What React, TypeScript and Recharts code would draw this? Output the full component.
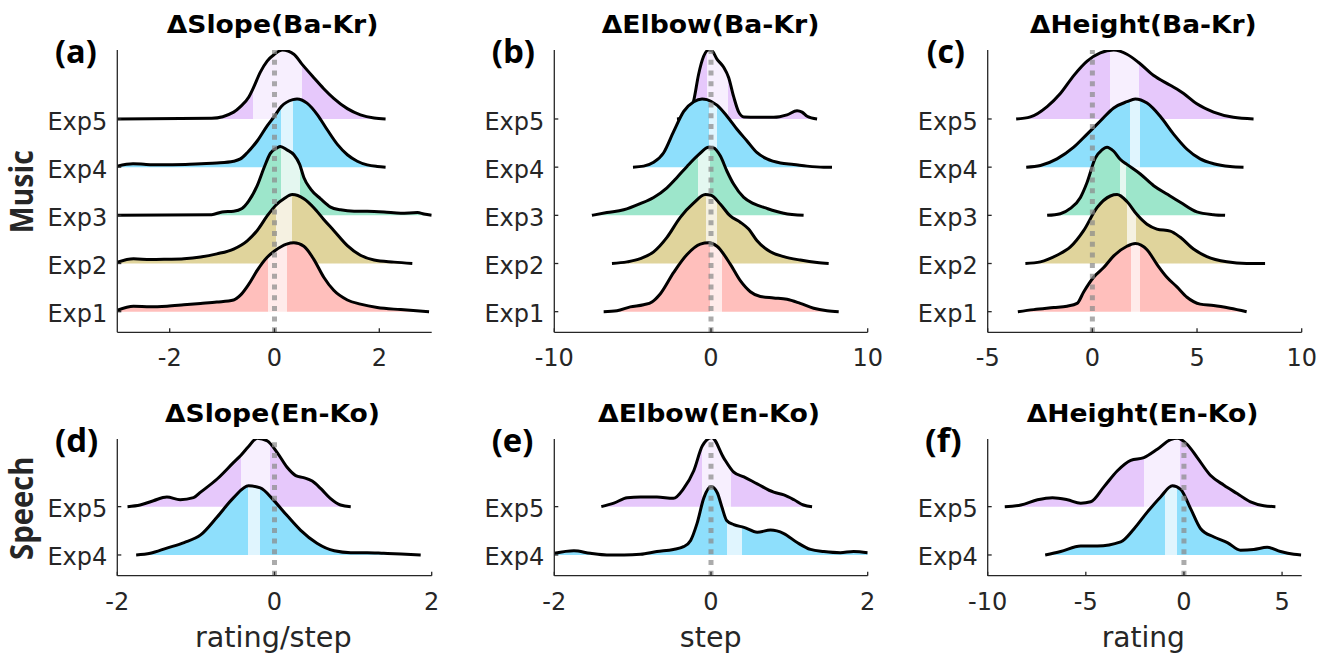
import React from 'react';
import { ComposedChart, Area, XAxis, YAxis, ReferenceLine } from 'recharts';

// x = effect value, y = density relative to the ridge's own peak (peak = 1)

// (a) ΔSlope(Ba-Kr)
const aExp5X = [-3, -1.2, -0.78, -0.65, -0.49, -0.41, -0.27, -0.14, 0, 0.15, 0.37, 0.52, 0.75, 0.94, 1.13, 1.39, 1.64, 1.9, 2.12];
const aExp5Y = [0, 0.01, 0.1, 0.18, 0.32, 0.44, 0.68, 0.84, 0.94, 1.0, 0.94, 0.8, 0.6, 0.44, 0.3, 0.15, 0.06, 0.014, 0];
const aExp4X = [-3, -2.7, -2.45, -2.2, -1.7, -1.4, -1.1, -0.78, -0.65, -0.52, -0.33, -0.14, 0, 0.13, 0.35, 0.43, 0.62, 0.82, 1.0, 1.2, 1.39, 1.58, 1.77, 1.96, 2.12];
const aExp4Y = [0.015, 0.05, 0.04, 0.035, 0.04, 0.05, 0.06, 0.086, 0.12, 0.21, 0.38, 0.6, 0.74, 0.88, 0.98, 0.99, 0.93, 0.76, 0.55, 0.33, 0.18, 0.086, 0.033, 0.01, 0];
const aExp3X = [-3, -1.2, -1.0, -0.78, -0.62, -0.49, -0.33, -0.2, -0.08, 0.05, 0.11, 0.24, 0.37, 0.48, 0.56, 0.69, 0.88, 1.07, 1.26, 1.52, 1.77, 2.09, 2.41, 2.73, 2.85, 3.0];
const aExp3Y = [0, 0.01, 0.05, 0.06, 0.1, 0.21, 0.43, 0.69, 0.9, 0.98, 1.0, 0.95, 0.88, 0.74, 0.55, 0.38, 0.24, 0.12, 0.08, 0.06, 0.06, 0.05, 0.03, 0.04, 0.02, 0];
const aExp2X = [-3, -2.69, -2.37, -2.05, -1.73, -1.41, -1.1, -0.78, -0.52, -0.33, -0.14, 0.03, 0.18, 0.34, 0.56, 0.75, 0.94, 1.13, 1.39, 1.64, 1.9, 2.28, 2.63];
const aExp2Y = [0.02, 0.07, 0.057, 0.062, 0.07, 0.095, 0.14, 0.21, 0.33, 0.48, 0.69, 0.85, 0.94, 1.0, 0.94, 0.81, 0.64, 0.48, 0.26, 0.12, 0.05, 0.02, 0];
const aExp1X = [-3, -2.69, -2.37, -2.05, -1.73, -1.41, -1.1, -0.78, -0.65, -0.49, -0.33, -0.14, 0, 0.23, 0.37, 0.56, 0.75, 0.94, 1.13, 1.39, 1.64, 1.96, 2.41, 2.95];
const aExp1Y = [0.02, 0.08, 0.07, 0.08, 0.1, 0.12, 0.14, 0.17, 0.24, 0.4, 0.6, 0.79, 0.88, 0.98, 1.0, 0.95, 0.76, 0.5, 0.31, 0.17, 0.11, 0.06, 0.03, 0];
const aBands = { Exp5: [-0.41, 0.52], Exp4: [0.13, 0.35], Exp3: [0.13, 0.48], Exp2: [0.03, 0.34], Exp1: [-0.13, 0.23] };

// (b) ΔElbow(Ba-Kr)
const bExp5X = [-2.17, -1.53, -1.1, -0.79, -0.47, -0.15, 0.06, 0.38, 0.81, 1.13, 1.45, 1.77, 2.1, 2.94, 4.0, 4.85, 5.49, 5.81, 6.13, 6.77];
const bExp5Y = [0, 0.03, 0.27, 0.65, 0.91, 1.0, 0.99, 0.87, 0.75, 0.6, 0.32, 0.1, 0.03, 0.024, 0.024, 0.06, 0.12, 0.1, 0.04, 0];
const bExp4X = [-4.98, -4.3, -3.66, -3.02, -2.38, -1.74, -1.1, -0.57, -0.26, 0.38, 1.02, 1.66, 2.3, 2.94, 3.57, 4.43, 5.28, 6.13, 7.19, 7.72];
const bExp4Y = [0, 0.015, 0.07, 0.21, 0.52, 0.81, 0.95, 0.99, 0.98, 0.9, 0.74, 0.55, 0.38, 0.21, 0.12, 0.06, 0.04, 0.015, 0, 0];
const bExp3X = [-7.6, -6.64, -5.57, -4.51, -3.66, -2.81, -2.17, -1.53, -0.79, -0.15, 0.17, 0.6, 1.02, 1.45, 2.09, 2.72, 3.57, 4.64, 5.91];
const bExp3Y = [0, 0.04, 0.08, 0.17, 0.26, 0.4, 0.55, 0.71, 0.88, 0.99, 0.98, 0.86, 0.64, 0.45, 0.26, 0.17, 0.1, 0.03, 0];
const bExp2X = [-6.32, -5.36, -4.51, -3.66, -2.81, -1.96, -1.1, -0.36, 0, 0.6, 1.23, 1.87, 2.4, 2.94, 3.79, 4.64, 5.7, 6.77, 7.51];
const bExp2Y = [0, 0.024, 0.07, 0.17, 0.38, 0.67, 0.88, 1.0, 0.99, 0.86, 0.69, 0.6, 0.5, 0.33, 0.17, 0.1, 0.05, 0.014, 0];
const bExp1X = [-6.85, -6.0, -5.15, -4.3, -3.77, -3.23, -2.38, -1.53, -0.68, -0.15, 0.38, 1.23, 1.87, 2.51, 3.15, 4.0, 4.85, 5.7, 6.55, 7.4, 8.15];
const bExp1Y = [0, 0.014, 0.07, 0.1, 0.14, 0.26, 0.57, 0.83, 0.98, 1.0, 0.95, 0.69, 0.45, 0.29, 0.22, 0.2, 0.18, 0.12, 0.05, 0.014, 0];
const bBands = { Exp5: [-0.25, 1.1], Exp4: [-0.15, 0.38], Exp3: [-0.8, -0.05], Exp2: [-0.32, 0.38], Exp1: [-0.05, 0.7] };

// (c) ΔHeight(Ba-Kr)
const cExp5X = [-3.64, -2.96, -2.16, -1.53, -0.89, -0.25, 0.38, 1.02, 1.65, 2.21, 2.93, 3.72, 4.36, 4.99, 5.79, 6.74, 7.7];
const cExp5Y = [0, 0.03, 0.18, 0.37, 0.63, 0.84, 0.96, 1.0, 0.94, 0.82, 0.63, 0.49, 0.37, 0.22, 0.1, 0.024, 0];
const cExp4X = [-3.16, -2.48, -1.69, -0.89, -0.25, 0.38, 1.02, 1.65, 2.05, 2.61, 3.24, 3.88, 4.52, 5.15, 5.79, 6.58, 7.22];
const cExp4Y = [0, 0.024, 0.12, 0.29, 0.48, 0.67, 0.86, 0.95, 0.99, 0.93, 0.74, 0.48, 0.26, 0.12, 0.05, 0.01, 0];
const cExp3X = [-2.16, -1.53, -1.05, -0.57, -0.25, 0.14, 0.46, 0.7, 1.02, 1.34, 1.65, 2.29, 2.93, 3.56, 4.2, 4.99, 5.79, 6.34];
const cExp3Y = [0, 0.024, 0.1, 0.26, 0.48, 0.83, 0.95, 0.99, 0.93, 0.81, 0.74, 0.6, 0.43, 0.31, 0.19, 0.05, 0.01, 0];
const cExp2X = [-3.2, -2.48, -1.69, -1.05, -0.41, 0.22, 0.86, 1.18, 1.65, 2.13, 2.61, 3.08, 3.72, 4.2, 4.83, 5.47, 6.42, 7.37, 8.25];
const cExp2Y = [0, 0.024, 0.12, 0.24, 0.48, 0.81, 0.98, 1.0, 0.9, 0.71, 0.57, 0.5, 0.47, 0.38, 0.21, 0.1, 0.024, 0, 0];
const cExp1X = [-3.56, -2.8, -1.84, -1.21, -0.73, -0.41, 0.06, 0.54, 1.02, 1.65, 2.05, 2.61, 3.08, 3.56, 4.04, 4.52, 5.15, 5.79, 6.58, 7.37];
const cExp1Y = [0, 0.03, 0.06, 0.08, 0.12, 0.29, 0.5, 0.64, 0.81, 0.95, 0.99, 0.9, 0.69, 0.5, 0.36, 0.21, 0.11, 0.09, 0.05, 0];
const cBands = { Exp5: [0.86, 2.21], Exp4: [1.78, 2.29], Exp3: [1.3, 1.62], Exp2: [1.65, 2.1], Exp1: [1.84, 2.29] };

// (d) ΔSlope(En-Ko)
const dExp5X = [-1.87, -1.71, -1.54, -1.37, -1.2, -1.03, -0.94, -0.73, -0.52, -0.43, -0.33, -0.22, -0.09, 0.03, 0.16, 0.27, 0.37, 0.48, 0.59, 0.71, 0.84, 0.97];
const dExp5Y = [0, 0.024, 0.086, 0.14, 0.1, 0.13, 0.21, 0.4, 0.64, 0.74, 0.87, 0.99, 0.95, 0.79, 0.57, 0.45, 0.42, 0.37, 0.26, 0.12, 0.024, 0];
const dExp4X = [-1.76, -1.58, -1.37, -1.15, -0.94, -0.73, -0.52, -0.33, -0.18, -0.01, 0.16, 0.33, 0.54, 0.76, 0.97, 1.18, 1.39, 1.61, 1.86];
const dExp4Y = [0, 0.024, 0.1, 0.18, 0.29, 0.55, 0.83, 1.0, 0.97, 0.79, 0.57, 0.36, 0.17, 0.06, 0.033, 0.033, 0.024, 0.014, 0];
const dBands = { Exp5: [-0.43, -0.06], Exp4: [-0.34, -0.19] };

// (e) ΔElbow(En-Ko)
const eExp5X = [-1.4, -1.24, -1.07, -0.9, -0.69, -0.48, -0.35, -0.22, -0.11, 0.01, 0.16, 0.29, 0.42, 0.59, 0.8, 0.93, 1.06, 1.18, 1.29];
const eExp5Y = [0, 0.05, 0.13, 0.14, 0.14, 0.12, 0.26, 0.52, 0.88, 1.0, 0.71, 0.5, 0.43, 0.33, 0.21, 0.17, 0.1, 0.024, 0];
const eExp4X = [-2, -1.75, -1.54, -1.33, -1.11, -0.9, -0.69, -0.48, -0.35, -0.26, -0.18, -0.09, 0, 0.08, 0.14, 0.2, 0.29, 0.42, 0.59, 0.76, 0.93, 1.1, 1.27, 1.44, 1.65, 1.82, 2];
const eExp4Y = [0.024, 0.06, 0.024, 0, 0, 0.01, 0.05, 0.08, 0.12, 0.21, 0.45, 0.83, 0.99, 0.9, 0.69, 0.5, 0.44, 0.4, 0.33, 0.36, 0.31, 0.18, 0.08, 0.05, 0.033, 0.05, 0.033];
const eBands = { Exp5: [-0.11, 0.26], Exp4: [0.2, 0.39] };

// (f) ΔHeight(En-Ko)
const fExp5X = [-9.13, -8.31, -7.46, -6.7, -5.94, -5.26, -4.75, -4.07, -3.39, -2.71, -2.04, -1.36, -0.68, -0.34, 0.17, 0.68, 1.36, 2.04, 2.71, 3.39, 4.07, 4.66];
const fExp5Y = [0, 0.024, 0.1, 0.13, 0.1, 0.05, 0.07, 0.29, 0.52, 0.67, 0.71, 0.83, 0.97, 0.99, 0.9, 0.71, 0.45, 0.31, 0.19, 0.07, 0.014, 0];
const fExp4X = [-7.07, -6.28, -5.26, -4.41, -3.22, -2.54, -1.87, -1.19, -0.59, -0.17, 0.34, 0.85, 1.53, 2.21, 2.88, 3.56, 4.24, 4.92, 5.6, 5.97];
const fExp4Y = [0, 0.05, 0.13, 0.13, 0.19, 0.38, 0.62, 0.84, 1.0, 0.95, 0.67, 0.38, 0.26, 0.18, 0.07, 0.08, 0.11, 0.05, 0.01, 0];
const fBands = { Exp5: [-2.04, -0.22], Exp4: [-0.98, -0.34] };

const musicLabels = ['Exp1', 'Exp2', 'Exp3', 'Exp4', 'Exp5'];
const speechLabels = ['Exp4', 'Exp5'];

// fill colours per experiment, and the lighter tone for the interval band
const FILL: Record<string, string> = { Exp5: '#e6c8fb', Exp4: '#8edffc', Exp3: '#9de6cb', Exp2: '#e0d49c', Exp1: '#ffbfbc' };
const LIGHT: Record<string, string> = { Exp5: '#f7effe', Exp4: '#e0f5fe', Exp3: '#e4f7f0', Exp2: '#f5f1e1', Exp1: '#ffebea' };

const PEAK = 1.43; // ridge peak height in y units (ridge spacing = 1)
const FONT = 'DejaVu Sans';
const INK = '#262626';
const Y_W = 60;
const X_H = 40;

type Ridge = { name: string; level: number; xs: number[]; ys: number[]; band: number[] };

const ridge = (name: string, level: number, xs: number[], ys: number[], band: number[]): Ridge => ({ name, level, xs, ys, band });

const panelA = [
  ridge('Exp5', 5, aExp5X, aExp5Y, aBands.Exp5),
  ridge('Exp4', 4, aExp4X, aExp4Y, aBands.Exp4),
  ridge('Exp3', 3, aExp3X, aExp3Y, aBands.Exp3),
  ridge('Exp2', 2, aExp2X, aExp2Y, aBands.Exp2),
  ridge('Exp1', 1, aExp1X, aExp1Y, aBands.Exp1),
];
const panelB = [
  ridge('Exp5', 5, bExp5X, bExp5Y, bBands.Exp5),
  ridge('Exp4', 4, bExp4X, bExp4Y, bBands.Exp4),
  ridge('Exp3', 3, bExp3X, bExp3Y, bBands.Exp3),
  ridge('Exp2', 2, bExp2X, bExp2Y, bBands.Exp2),
  ridge('Exp1', 1, bExp1X, bExp1Y, bBands.Exp1),
];
const panelC = [
  ridge('Exp5', 5, cExp5X, cExp5Y, cBands.Exp5),
  ridge('Exp4', 4, cExp4X, cExp4Y, cBands.Exp4),
  ridge('Exp3', 3, cExp3X, cExp3Y, cBands.Exp3),
  ridge('Exp2', 2, cExp2X, cExp2Y, cBands.Exp2),
  ridge('Exp1', 1, cExp1X, cExp1Y, cBands.Exp1),
];
const panelD = [ridge('Exp5', 2, dExp5X, dExp5Y, dBands.Exp5), ridge('Exp4', 1, dExp4X, dExp4Y, dBands.Exp4)];
const panelE = [ridge('Exp5', 2, eExp5X, eExp5Y, eBands.Exp5), ridge('Exp4', 1, eExp4X, eExp4Y, eBands.Exp4)];
const panelF = [ridge('Exp5', 2, fExp5X, fExp5Y, fBands.Exp5), ridge('Exp4', 1, fExp4X, fExp4Y, fBands.Exp4)];

// one row per x value used by any ridge; ridges without that x stay empty (connectNulls)
function buildRows(ridges: Ridge[]) {
  const allX = Array.from(new Set(ridges.flatMap((r) => r.xs))).sort((a, b) => a - b);
  return allX.map((x) => {
    const row: Record<string, number> = { x };
    ridges.forEach((r) => {
      const i = r.xs.indexOf(x);
      if (i >= 0) row[r.name] = r.level + PEAK * r.ys[i];
    });
    return row;
  });
}

type Box = { cx: number; cy: number; w: number; h: number };
type Plot = { L: number; R: number; T: number; B: number };

type PanelProps = {
  id: string;
  ridges: Ridge[];
  xDomain: number[];
  xTicks: number[];
  yDomain: number[];
  yLabels: string[];
  box: Box;
  plot: Plot;
};

const axisStyle = { stroke: INK, strokeWidth: 1.3 };
const tickText = { fill: INK, fontSize: 24, fontFamily: FONT };

function Panel({ id, ridges, xDomain, xTicks, yDomain, yLabels, box, plot }: PanelProps) {
  const rows = buildRows(ridges);
  const margin = {
    left: plot.L - box.cx - Y_W,
    right: box.cx + box.w - plot.R,
    top: plot.T - box.cy,
    bottom: box.cy + box.h - plot.B - X_H,
  };
  // top ridge first so lower ridges are painted over it
  const order = [...ridges].sort((a, b) => b.level - a.level);

  return (
    <div style={{ position: 'absolute', left: box.cx, top: box.cy }}>
      <ComposedChart width={box.w} height={box.h} data={rows} margin={margin} style={{ fontFamily: FONT }}>
        <defs>
          {ridges.map((r) => {
            const lo = r.xs[0];
            const hi = r.xs[r.xs.length - 1];
            const f1 = (r.band[0] - lo) / (hi - lo);
            const f2 = (r.band[1] - lo) / (hi - lo);
            return (
              <linearGradient key={r.name} id={`${id}-${r.name}`} x1="0" y1="0" x2="1" y2="0">
                <stop offset={0} stopColor={FILL[r.name]} />
                <stop offset={f1} stopColor={FILL[r.name]} />
                <stop offset={f1} stopColor={LIGHT[r.name]} />
                <stop offset={f2} stopColor={LIGHT[r.name]} />
                <stop offset={f2} stopColor={FILL[r.name]} />
                <stop offset={1} stopColor={FILL[r.name]} />
              </linearGradient>
            );
          })}
        </defs>
        <XAxis
          dataKey="x"
          type="number"
          domain={xDomain}
          ticks={xTicks}
          interval={0}
          allowDataOverflow
          height={X_H}
          tickSize={-4}
          tickMargin={21}
          axisLine={axisStyle}
          tickLine={axisStyle}
          tick={tickText}
        />
        <YAxis
          type="number"
          domain={yDomain}
          ticks={yLabels.map((_, i) => i + 1)}
          interval={0}
          allowDataOverflow
          width={Y_W}
          tickSize={-4}
          tickMargin={14}
          axisLine={axisStyle}
          tickLine={axisStyle}
          tick={{ ...tickText, dy: 2 }}
          tickFormatter={(v: number) => yLabels[Math.round(v) - 1]}
        />
        {order.map((r) => (
          <Area
            key={r.name}
            dataKey={r.name}
            type="monotone"
            baseValue={r.level}
            connectNulls
            fill={`url(#${id}-${r.name})`}
            fillOpacity={1}
            stroke="#000"
            strokeWidth={3}
            strokeLinejoin="round"
            dot={false}
            activeDot={false}
            isAnimationActive={false}
          />
        ))}
        <ReferenceLine x={0} stroke="#8a8a8a" strokeOpacity={0.72} strokeWidth={5} strokeDasharray="5 5.7" />
      </ComposedChart>
    </div>
  );
}

const TOP_Y = [0.572, 6.432];
const BOT_Y = [0.571, 3.4];

const titles = [
  { text: 'ΔSlope(Ba-Kr)', x: 272.5, y: 33.3, len: 211.7 },
  { text: 'ΔElbow(Ba-Kr)', x: 710.5, y: 33.3, len: 217.7 },
  { text: 'ΔHeight(Ba-Kr)', x: 1143.3, y: 33.3, len: 226.7 },
  { text: 'ΔSlope(En-Ko)', x: 272.5, y: 421.7, len: 215 },
  { text: 'ΔElbow(En-Ko)', x: 709, y: 421.7, len: 222 },
  { text: 'ΔHeight(En-Ko)', x: 1142.5, y: 421.7, len: 231.7 },
];
const panelTags = [
  { text: '(a)', x: 55, y: 63.3, len: 41.7 },
  { text: '(b)', x: 491.7, y: 63.3, len: 43.3 },
  { text: '(c)', x: 926.7, y: 63.3, len: 38.3 },
  { text: '(d)', x: 55, y: 451.7, len: 43.3 },
  { text: '(e)', x: 491.7, y: 451.7, len: 41.7 },
  { text: '(f)', x: 925, y: 451.7, len: 36.7 },
];
const rowNames = [
  { text: 'Music', x: 33.3, y: 191.7, len: 83.3 },
  { text: 'Speech', x: 33.3, y: 508.3, len: 103.3 },
];
const xNames = [
  { text: 'rating/step', x: 273.3, y: 647, len: 156.7 },
  { text: 'step', x: 710.7, y: 647, len: 61.7 },
  { text: 'rating', x: 1143.3, y: 647, len: 83.3 },
];

export default function App() {
  return (
    <div style={{ position: 'absolute', left: 0, top: 0, width: 1332, height: 656, background: '#fff', overflow: 'hidden' }}>
      <Panel id="pa" ridges={panelA} xDomain={[-3, 3]} xTicks={[-2, 0, 2]} yDomain={TOP_Y} yLabels={musicLabels}
        box={{ cx: 0, cy: 0, w: 460, h: 390 }} plot={{ L: 117.3, R: 431.7, T: 50, B: 332.3 }} />
      <Panel id="pb" ridges={panelB} xDomain={[-10, 10]} xTicks={[-10, 0, 10]} yDomain={TOP_Y} yLabels={musicLabels}
        box={{ cx: 440, cy: 0, w: 460, h: 390 }} plot={{ L: 554.3, R: 867.7, T: 50, B: 332.3 }} />
      <Panel id="pc" ridges={panelC} xDomain={[-5, 10]} xTicks={[-5, 0, 5, 10]} yDomain={TOP_Y} yLabels={musicLabels}
        box={{ cx: 880, cy: 0, w: 452, h: 390 }} plot={{ L: 987.7, R: 1301.7, T: 50, B: 332.3 }} />
      <Panel id="pd" ridges={panelD} xDomain={[-2, 2]} xTicks={[-2, 0, 2]} yDomain={BOT_Y} yLabels={speechLabels}
        box={{ cx: 0, cy: 390, w: 460, h: 266 }} plot={{ L: 117.3, R: 431.7, T: 439, B: 575.7 }} />
      <Panel id="pe" ridges={panelE} xDomain={[-2, 2]} xTicks={[-2, 0, 2]} yDomain={BOT_Y} yLabels={speechLabels}
        box={{ cx: 440, cy: 390, w: 460, h: 266 }} plot={{ L: 554.3, R: 867.7, T: 439, B: 575.7 }} />
      <Panel id="pf" ridges={panelF} xDomain={[-10, 6]} xTicks={[-10, -5, 0, 5]} yDomain={BOT_Y} yLabels={speechLabels}
        box={{ cx: 880, cy: 390, w: 452, h: 266 }} plot={{ L: 987.7, R: 1301.7, T: 439, B: 575.7 }} />

      <svg width={1332} height={656} style={{ position: 'absolute', left: 0, top: 0, pointerEvents: 'none' }}>
        {titles.map((t) => (
          <text key={t.text} x={t.x} y={t.y} textAnchor="middle" fontFamily={FONT} fontWeight="bold" fontSize={25}
            fill="#000" textLength={t.len} lengthAdjust="spacingAndGlyphs">{t.text}</text>
        ))}
        {panelTags.map((t) => (
          <text key={t.text} x={t.x} y={t.y} fontFamily="Open Sans" fontWeight="bold" fontSize={32}
            fill="#000" textLength={t.len} lengthAdjust="spacingAndGlyphs">{t.text}</text>
        ))}
        {rowNames.map((t) => (
          <text key={t.text} x={t.x} y={t.y} transform={`rotate(-90 ${t.x} ${t.y})`} textAnchor="middle"
            fontFamily="Open Sans" fontWeight="bold" fontSize={32} fill={INK} textLength={t.len}
            lengthAdjust="spacingAndGlyphs">{t.text}</text>
        ))}
        {xNames.map((t) => (
          <text key={t.text} x={t.x} y={t.y} textAnchor="middle" fontFamily={FONT} fontSize={28}
            fill={INK} textLength={t.len} lengthAdjust="spacingAndGlyphs">{t.text}</text>
        ))}
      </svg>
    </div>
  );
}
